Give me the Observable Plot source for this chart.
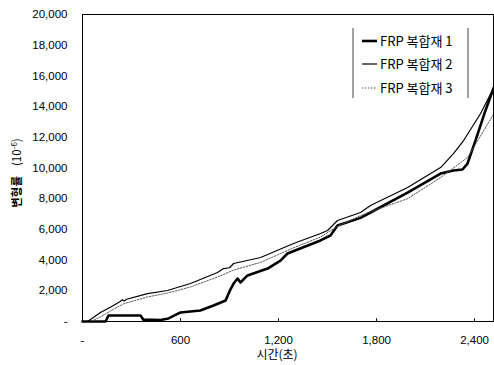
<!DOCTYPE html>
<html>
<head>
<meta charset="utf-8">
<script src="https://cdn.jsdelivr.net/npm/d3@7"></script>
<script src="https://cdn.jsdelivr.net/npm/@observablehq/plot@0.6"></script>
<style>
  html, body { margin: 0; padding: 0; background: #fff; }
  #chart { width: 494px; height: 365px; }
</style>
</head>
<body>
<div id="chart"></div>
<script>
// ---- data (time in seconds, strain in 10^-6) ----
const seriesNames = ["FRP 복합재 1", "FRP 복합재 2", "FRP 복합재 3"];

const t1 = [0, 141, 159, 355, 373, 478, 527, 600, 722, 802, 876, 906, 925, 949, 967, 1010, 1133, 1212, 1255, 1457, 1518, 1561, 1702, 1763, 1990, 2192, 2271, 2326, 2357, 2406, 2467, 2516];
const v1 = [0, 0, 390, 390, 120, 100, 200, 590, 720, 1040, 1370, 2100, 2475, 2800, 2540, 3000, 3450, 3970, 4430, 5280, 5600, 6250, 6750, 7100, 8400, 9640, 9840, 9900, 10290, 11800, 13750, 15200];

const t2 = [0, 31, 110, 190, 230, 245, 255, 270, 398, 520, 661, 827, 863, 900, 925, 1090, 1292, 1457, 1500, 1561, 1702, 1763, 1990, 2192, 2271, 2333, 2437, 2516];
const v2 = [0, 0, 590, 1040, 1300, 1420, 1330, 1450, 1820, 2020, 2475, 3190, 3450, 3500, 3780, 4170, 5080, 5730, 5930, 6580, 7100, 7560, 8730, 10030, 10940, 11790, 13550, 15200];

const t3 = [0, 49, 110, 190, 251, 398, 520, 661, 827, 925, 1090, 1292, 1457, 1561, 1702, 1763, 1990, 2192, 2357, 2516];
const v3 = [0, 0, 300, 800, 1150, 1600, 1850, 2250, 2900, 3350, 3850, 4800, 5500, 6200, 6900, 7150, 8000, 9380, 10680, 13500];

const xTicks = [0, 600, 1200, 1800, 2400];
const yTicks = [0, 2000, 4000, 6000, 8000, 10000, 12000, 14000, 16000, 18000, 20000];
const xTitle = "시간(초)";
const yTitleMain = "변형률";

// ---- build table ----
const rows = [];
[[t1, v1], [t2, v2], [t3, v3]].forEach(([ts, vs], i) => {
  ts.forEach((t, j) => rows.push({series: seriesNames[i], t, v: vs[j]}));
});
const fmt = d => d === 0 ? "-" : d3.format(",")(d);
const styles = [
  {stroke: "#000", strokeWidth: 2.6, dash: null},
  {stroke: "#000", strokeWidth: 1.2, dash: null},
  {stroke: "#555", strokeWidth: 1, dash: "1.5,1.5"}
];

const fontLat = "'Liberation Sans', Arial, 'Noto Sans CJK KR', sans-serif";

const chart = Plot.plot({
  width: 494,
  height: 365,
  marginLeft: 82,
  marginRight: 1,
  marginTop: 14,
  marginBottom: 44,
  style: {fontFamily: fontLat, fontSize: "11.5px", background: "#fff", color: "#000", overflow: "visible"},
  x: {domain: [0, 2516]},
  y: {domain: [0, 20000]},
  marks: [
    Plot.ruleX(xTicks.slice(1), {x: d => d, y1: 0, y2: 180, stroke: "#000", strokeWidth: 1}),
    Plot.axisX({ticks: xTicks, tickFormat: fmt, tickSize: 0, tickPadding: 14, label: null, fontSize: 11.5}),
    Plot.axisY({ticks: yTicks, tickFormat: fmt, tickSize: 0, tickPadding: 15, label: null, fontSize: 11.5}),
    ...seriesNames.map((name, i) => Plot.line(rows.filter(r => r.series === name), {
      x: "t", y: "v", stroke: styles[i].stroke, strokeWidth: styles[i].strokeWidth,
      strokeDasharray: styles[i].dash, curve: "linear"
    })),
    Plot.frame({stroke: "#000", strokeWidth: 1})
  ]
});

document.getElementById("chart").appendChild(chart);

const svg = d3.select(chart);
const korFont = "'Noto Sans CJK KR', 'Liberation Sans', sans-serif";

// x title
svg.append("text")
  .attr("x", 277).attr("y", 359)
  .attr("text-anchor", "middle")
  .attr("font-family", korFont).attr("font-size", 12)
  .text(xTitle);

// y title (rotated)
const yT = svg.append("text")
  .attr("transform", "translate(21,173) rotate(-90)")
  .attr("text-anchor", "middle")
  .attr("font-family", korFont).attr("font-size", 11.5);
yT.append("tspan").attr("font-weight", "bold").text(yTitleMain);
yT.append("tspan").attr("dx", 10).text("(10");
yT.append("tspan").attr("dy", -4).attr("font-size", 8).text("-6");
yT.append("tspan").attr("dy", 4).text(")");

// legend
const lg = svg.append("g").attr("text-anchor", "start");
lg.append("line").attr("x1", 353).attr("x2", 353).attr("y1", 28).attr("y2", 98).attr("stroke", "#444");
lg.append("line").attr("x1", 468).attr("x2", 468).attr("y1", 28).attr("y2", 98).attr("stroke", "#444");
const ly = [41, 64, 88];
seriesNames.forEach((name, i) => {
  lg.append("line")
    .attr("x1", 362).attr("x2", 377).attr("y1", ly[i]).attr("y2", ly[i])
    .attr("stroke", styles[i].stroke).attr("stroke-width", styles[i].strokeWidth)
    .attr("stroke-dasharray", styles[i].dash);
  lg.append("text")
    .attr("x", 380).attr("y", ly[i]).attr("dy", "0.36em")
    .attr("text-anchor", "start")
    .attr("font-family", korFont).attr("font-size", 13)
    .text(name);
});
</script>
</body>
</html>
